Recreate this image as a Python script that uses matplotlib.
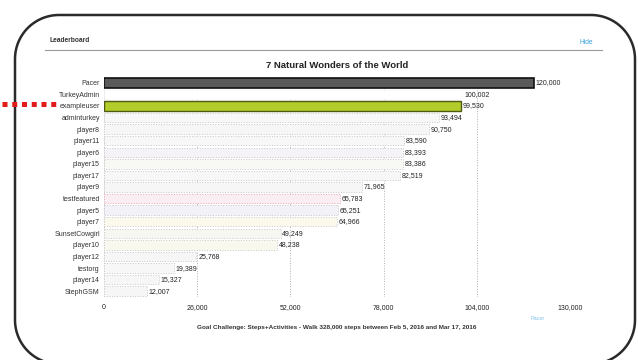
import numpy as np
import matplotlib
matplotlib.use("Agg")
import matplotlib.pyplot as plt
from matplotlib.lines import Line2D
from matplotlib.patches import Polygon
from matplotlib.ticker import FuncFormatter

plt.rcParams['font.family'] = ['Liberation Sans', 'DejaVu Sans']

players = ['Pacer', 'TurkeyAdmin', 'exampleuser', 'adminturkey', 'player8',
           'player11', 'player6', 'player15', 'player17', 'player9',
           'testfeatured', 'player5', 'player7', 'SunsetCowgirl', 'player10',
           'player12', 'testorg', 'player14', 'StephGSM']
steps = [120000, 100002, 99530, 93494, 90750, 83590, 83393, 83386, 82519,
         71965, 65783, 65251, 64966, 49249, 48238, 25768, 19389, 15327, 12007]
x_ticks = [0, 26000, 52000, 78000, 104000, 130000]

title = '7 Natural Wonders of the World'
footer = ('Goal Challenge: Steps+Activities - Walk 328,000 steps between '
          'Feb 5, 2016 and Mar 17, 2016')

W, H = 638, 360
fig = plt.figure(figsize=(W / 100, H / 100), dpi=100)

# page layer in pixel units
bg = fig.add_axes([0, 0, 1, 1])
bg.set_xlim(0, W)
bg.set_ylim(H, 0)
bg.axis('off')


def rounded_rect(x0, y0, x1, y1, r, n=30):
    # outline of a rounded rectangle, y growing downwards
    pts = []
    corners = [(x1 - r, y0 + r, -90, 0), (x1 - r, y1 - r, 0, 90),
               (x0 + r, y1 - r, 90, 180), (x0 + r, y0 + r, 180, 270)]
    for cx, cy, a0, a1 in corners:
        t = np.radians(np.linspace(a0, a1, n))
        pts.extend(zip(cx + r * np.cos(t), cy + r * np.sin(t)))
    return pts


frame = Polygon(rounded_rect(15, 15, 635, 364, 44), closed=True,
                facecolor='none', edgecolor='#2a2a2a', linewidth=1.8,
                joinstyle='round')
bg.add_patch(frame)

bg.text(50, 41, 'Leaderboard', fontsize=4.8, fontweight='bold',
        color='#333333', va='center')
bg.text(586, 43, 'Hide', fontsize=4.8, color='#3aa0e0', va='center', ha='center')
bg.add_line(Line2D([45, 602], [50, 50], color='#9a9a9a', linewidth=0.8))
bg.text(337, 65, title, fontsize=6.8, fontweight='bold', color='#222222',
        ha='center', va='center')
bg.text(337, 327, footer, fontsize=4.6, fontweight='bold', color='#333333',
        ha='center', va='center')
bg.text(538, 318, 'Pacer', fontsize=4, color='#7fbfe8', ha='center', va='center')

# red marker pointing at the current user
bg.add_line(Line2D([2, 58], [103.5, 103.5], color='#e21b1b', linewidth=3.6,
                   linestyle=(0, (1.0, 0.95)), solid_capstyle='butt',
                   dash_capstyle='butt'))

ax = fig.add_axes([104 / W, 1 - 297 / H, 466 / W, 220 / H])
ax.set_facecolor('none')

pale = ['#f4f4f4', '#ffffff', '#f4f4f4', '#f7f7f7', '#f6f6f6', '#f7f7f7',
        '#f5f3f7', '#f8f8f4', '#f7f7f7', '#f6f6f6', '#fbeef2', '#f3f1f8',
        '#fbf8ec', '#f7f7f2', '#f9f8ee', '#f6f6f6', '#f7f7f7', '#f6f6f6',
        '#f6f6f6']
edges = ['#c8c8c8'] * len(players)
edges[1] = '#f2f2f2'
edges[10] = '#e6a8b8'

ypos = list(range(len(players)))
bars = ax.barh(ypos, steps, height=0.82, color=pale, edgecolor=edges,
               linewidth=0.7, linestyle=':', zorder=2)
bars[0].set_facecolor('#5a5a5a')
bars[0].set_edgecolor('#111111')
bars[0].set_linestyle('-')
bars[0].set_linewidth(1.2)
bars[2].set_facecolor('#b2cc2c')
bars[2].set_edgecolor('#4d5a10')
bars[2].set_linestyle('-')
bars[2].set_linewidth(1.0)

for y, v in zip(ypos, steps):
    ax.text(v + 500, y, f'{v:,}', fontsize=5, color='#222222',
            va='center', ha='left')

ax.set_xlim(0, 130000)
ax.set_ylim(len(players) - 0.5, -0.5)
ax.set_yticks(ypos)
ax.set_yticklabels(players, fontsize=5, color='#333333')
ax.set_xticks(x_ticks)
ax.xaxis.set_major_formatter(FuncFormatter(lambda v, p: f'{int(v):,}'))
ax.tick_params(axis='x', labelsize=5, colors='#222222', length=0, pad=5)
ax.tick_params(axis='y', length=0, pad=3)
for s in ax.spines.values():
    s.set_visible(False)
ax.grid(axis='x', color='#b0b0b0', linestyle=':', linewidth=0.7, zorder=0)
ax.set_axisbelow(True)

fig.savefig('out.png', dpi=100)
